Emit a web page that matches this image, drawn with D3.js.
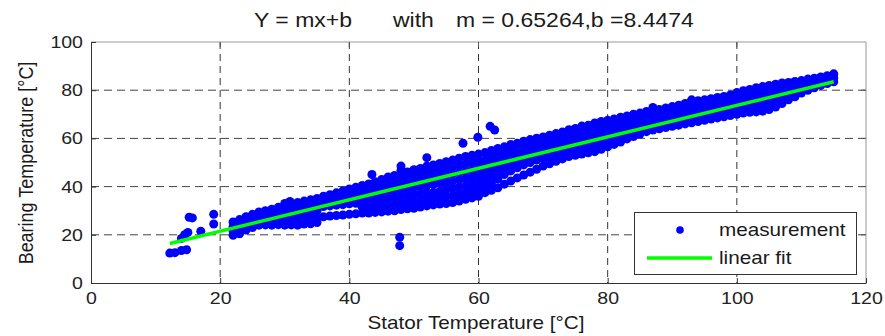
<!DOCTYPE html>
<html>
<head>
<meta charset="utf-8">
<script src="https://cdn.jsdelivr.net/npm/d3@7"></script>
<style>
  body { margin: 0; background: #fff; }
  svg { display: block; font-family: "Liberation Sans", Arial, sans-serif; }
</style>
</head>
<body>
<div class="chart-container"></div>
<script>
// fit parameters shown in the title
const slope = 0.65264;
const intercept = 8.4474;

const xTicks = [0, 20, 40, 60, 80, 100, 120];
const yTicks = [0, 20, 40, 60, 80, 100];

// stator temperature columns and the bearing temperatures read at each
const statorCols = [22, 23, 24, 25, 26, 27, 28, 29, 30, 31, 32, 33, 34, 35, 36, 37, 38, 39, 40, 41,
  42, 43, 44, 45, 46, 47, 48, 49, 50, 51, 52, 53, 54, 55, 56, 57, 58, 59, 60, 61,
  62, 63, 64, 65, 66, 67, 68, 69, 70, 71, 72, 73, 74, 75, 76, 77, 78, 79, 80, 81,
  82, 83, 84, 85, 86, 87, 88, 89, 90, 91, 92, 93, 94, 95, 96, 97, 98, 99, 100, 101,
  102, 103, 104, 105, 106, 107, 108, 109, 110, 111, 112, 113, 114, 115];

const bearingCols = [
  [19.8, 21.6, 23.4, 25.3],
  [20.4, 22.3, 24.2, 26.3],
  [22.0, 23.9, 25.7, 27.5],
  [23.0, 24.8, 26.7, 28.5],
  [24.0, 25.9, 27.8, 29.5],
  [24.1, 26.0, 28.1, 30.0],
  [24.0, 26.2, 28.4, 30.6],
  [24.2, 26.4, 28.7, 31.4],
  [24.0, 26.5, 29.0, 31.2, 33.0],
  [24.1, 26.6, 29.3, 31.6, 32.6],
  [24.0, 26.5, 28.8, 31.0, 33.4],
  [24.5, 26.9, 29.3, 31.7, 34.0],
  [24.6, 27.0, 29.6, 32.1, 34.5],
  [25.1, 27.4, 30.0, 32.6, 35.1],
  [27.5, 31.7, 33.8, 36.0],
  [27.8, 32.0, 34.3, 36.6],
  [28.0, 32.3, 34.8, 37.4],
  [28.2, 32.5, 35.3, 38.2],
  [28.5, 32.9, 35.9, 39.0],
  [28.7, 33.1, 35.4, 37.6, 39.7],
  [29.0, 31.4, 33.8, 36.1, 38.4, 40.5],
  [29.0, 31.5, 34.0, 36.5, 38.9, 41.1],
  [29.3, 31.8, 34.3, 36.9, 39.5, 42.0],
  [29.5, 32.1, 34.8, 37.5, 40.2, 42.9],
  [29.8, 32.4, 35.1, 37.8, 40.6, 43.2, 44.0],
  [30.0, 32.6, 35.4, 38.2, 41.0, 43.7, 44.6],
  [30.5, 33.1, 35.8, 38.6, 41.5, 44.3, 46.8],
  [30.8, 33.4, 36.2, 39.1, 42.0, 44.8, 46.1],
  [31.0, 33.8, 36.6, 39.5, 42.4, 45.2, 47.0],
  [31.5, 34.2, 37.0, 39.9, 42.8, 45.6, 47.5],
  [32.0, 34.7, 37.5, 40.4, 43.3, 46.1, 48.5],
  [32.4, 35.1, 37.6, 40.8, 43.8, 46.7, 49.0],
  [32.8, 35.5, 38.0, 41.3, 44.3, 47.2, 49.6],
  [33.0, 35.9, 38.9, 41.8, 44.8, 47.7, 50.3],
  [33.4, 36.3, 39.3, 42.3, 45.3, 48.3, 51.0],
  [34.0, 36.8, 39.8, 42.8, 45.8, 48.8, 51.8],
  [34.7, 37.4, 40.3, 43.3, 46.3, 49.4, 52.5],
  [35.3, 38.0, 40.9, 43.9, 46.9, 50.0, 53.0],
  [36.0, 38.7, 41.5, 44.5, 47.5, 50.5, 53.5],
  [37.5, 39.9, 42.5, 45.3, 48.2, 51.1, 54.1],
  [38.5, 41.3, 43.8, 46.3, 49.0, 52.0, 55.0],
  [39.5, 43.2, 45.6, 48.1, 50.6, 53.2, 55.8],
  [41.0, 45.0, 47.4, 49.8, 52.2, 54.4, 56.5],
  [42.3, 46.5, 48.7, 51.0, 53.2, 55.4, 57.5],
  [43.6, 47.8, 50.0, 52.1, 54.1, 56.1, 58.0],
  [44.8, 49.0, 51.0, 53.0, 55.0, 57.0, 58.8],
  [46.0, 50.0, 52.0, 54.0, 56.0, 57.8, 59.5],
  [47.2, 51.0, 53.0, 55.0, 56.8, 58.5, 60.1],
  [48.5, 51.8, 53.9, 55.8, 57.6, 59.2, 60.6],
  [49.5, 51.7, 53.9, 56.0, 58.0, 59.8, 61.3],
  [50.5, 52.7, 54.8, 56.9, 58.8, 60.6, 62.0],
  [51.5, 53.6, 55.7, 57.7, 59.6, 61.3, 62.7],
  [52.5, 54.6, 56.7, 58.6, 60.5, 62.2, 63.6],
  [53.0, 55.2, 57.4, 59.4, 61.3, 63.0, 64.1],
  [53.5, 55.8, 58.0, 60.1, 62.1, 63.7, 65.1],
  [54.0, 56.4, 58.7, 60.8, 62.8, 64.4, 65.5],
  [54.5, 57.0, 59.3, 61.5, 63.5, 65.1, 66.4],
  [55.5, 57.8, 60.0, 62.1, 64.1, 65.7, 67.0],
  [56.5, 58.7, 60.8, 62.8, 64.7, 66.3, 67.5],
  [57.5, 59.6, 61.6, 63.5, 65.3, 66.8, 68.1],
  [58.5, 60.5, 62.4, 64.3, 66.0, 67.5, 68.8],
  [59.8, 61.7, 63.5, 65.3, 67.0, 68.3, 69.3],
  [60.8, 62.7, 64.4, 66.1, 67.7, 69.0, 70.0],
  [61.8, 63.6, 65.3, 66.9, 68.4, 69.6, 70.5],
  [62.8, 64.5, 66.1, 67.6, 69.0, 70.2, 71.2],
  [63.5, 65.2, 66.8, 68.3, 69.7, 70.8, 71.5],
  [64.0, 65.8, 67.5, 69.0, 70.4, 71.4, 72.0],
  [64.5, 66.3, 68.0, 69.6, 71.0, 72.0, 72.6],
  [65.0, 66.8, 68.5, 70.1, 71.5, 72.6, 73.2],
  [65.5, 67.3, 69.0, 70.6, 72.0, 73.1, 73.8],
  [66.0, 67.8, 69.5, 71.1, 72.6, 73.8, 74.5],
  [66.5, 68.3, 70.1, 71.8, 73.3, 74.5, 75.3],
  [67.0, 68.9, 70.7, 72.4, 73.9, 75.0, 75.6],
  [67.5, 69.4, 71.2, 72.9, 74.4, 75.5, 76.0],
  [68.0, 69.9, 71.7, 73.4, 74.9, 76.0, 76.5],
  [68.5, 70.4, 72.2, 73.9, 75.4, 76.5, 77.0],
  [69.0, 70.9, 72.7, 74.4, 75.9, 76.9, 77.4],
  [69.5, 71.4, 73.2, 74.9, 76.4, 77.4, 78.0],
  [70.0, 71.9, 73.8, 75.5, 77.0, 78.2, 79.0],
  [70.5, 72.4, 74.3, 76.1, 77.7, 78.9, 79.8],
  [70.8, 72.8, 74.8, 76.6, 78.3, 79.5, 80.3],
  [71.0, 73.1, 75.2, 77.2, 79.0, 80.2, 81.0],
  [71.3, 73.5, 75.7, 77.7, 79.5, 80.7, 81.5],
  [72.0, 74.2, 76.3, 78.3, 80.0, 81.2, 82.0],
  [73.0, 75.1, 77.1, 79.0, 80.6, 81.7, 82.5],
  [74.5, 76.4, 78.2, 79.9, 81.3, 82.3, 83.0],
  [76.0, 77.7, 79.3, 80.8, 82.0, 82.8, 83.2],
  [77.3, 78.9, 80.4, 81.8, 82.8, 83.6],
  [78.8, 80.3, 81.7, 82.9, 84.0],
  [80.0, 81.5, 82.9, 84.0, 84.6],
  [81.0, 82.5, 83.8, 85.0],
  [82.0, 83.5, 84.6, 85.5],
  [82.8, 84.2, 85.3, 86.0],
  [83.5, 85.0, 86.3, 86.8]
];

// isolated points off the main band
const outlierX = [12.2, 13.0, 14.0, 14.8, 14.0, 14.5, 15.0, 15.2, 15.7, 17.0, 19.0, 19.0,
  30.8, 43.5, 47.8, 47.8, 48.0, 52.0, 57.6, 59.9, 61.8, 62.5, 87.0, 93.0];
const outlierY = [12.4, 12.6, 13.5, 13.8, 18.5, 20.0, 21.0, 27.3, 27.0, 21.5, 24.5, 28.5,
  33.8, 45.0, 15.5, 19.0, 48.5, 52.0, 58.0, 60.5, 65.0, 63.5, 72.8, 76.0];

const W = 885, H = 336;
const stretch = 1.15; // the original figure is wider than its fonts

const svg = d3.select('.chart-container').append('svg')
  .attr('width', W).attr('height', H);

const x = d3.scaleLinear().domain([0, 120]).range([91, 866]);
const y = d3.scaleLinear().domain([0, 100]).range([283, 42]);

// points
const points = [];
statorCols.forEach((sx, i) => {
  bearingCols[i].forEach((by) => points.push({ x: sx, y: by }));
});
outlierX.forEach((ox, i) => points.push({ x: ox, y: outlierY[i] }));

// grid
svg.append('g').selectAll('line')
  .data(xTicks.slice(1, -1)).enter().append('line')
  .attr('x1', (d) => x(d)).attr('x2', (d) => x(d))
  .attr('y1', y(100)).attr('y2', y(0))
  .attr('stroke', '#333').attr('stroke-width', 1)
  .attr('stroke-dasharray', '7,5');

svg.append('g').selectAll('line')
  .data(yTicks.slice(1, -1)).enter().append('line')
  .attr('x1', x(0)).attr('x2', x(120))
  .attr('y1', (d) => y(d)).attr('y2', (d) => y(d))
  .attr('stroke', '#444').attr('stroke-width', 1)
  .attr('stroke-dasharray', '8,5');

svg.append('g').selectAll('circle')
  .data(points).enter().append('circle')
  .attr('cx', (d) => x(d.x)).attr('cy', (d) => y(d.y))
  .attr('r', 4.5).attr('fill', '#0000ff');

// linear fit over the range of measurements
const xr = d3.extent(points, (d) => d.x);
const line = d3.line().x((d) => x(d)).y((d) => y(slope * d + intercept));
svg.append('path').datum(xr)
  .attr('d', line).attr('fill', 'none')
  .attr('stroke', '#00ff00').attr('stroke-width', 3.5);

// frame
svg.append('line').attr('x1', x(0)).attr('x2', x(120)).attr('y1', y(100)).attr('y2', y(100))
  .attr('stroke', '#999');
svg.append('line').attr('x1', x(120)).attr('x2', x(120)).attr('y1', y(100)).attr('y2', y(0))
  .attr('stroke', '#999');

const fontSize = 17;

const xAxis = svg.append('g')
  .attr('transform', `translate(0,${y(0)})`)
  .call(d3.axisBottom(x).tickValues(xTicks).tickSizeInner(-5).tickSizeOuter(0).tickPadding(9));
const yAxis = svg.append('g')
  .attr('transform', `translate(${x(0)},0)`)
  .call(d3.axisLeft(y).tickValues(yTicks).tickSizeInner(-5).tickSizeOuter(0).tickPadding(7));

[xAxis, yAxis].forEach((ax) => {
  ax.select('.domain').attr('stroke', '#333');
  ax.selectAll('.tick line').attr('stroke', '#333');
  ax.selectAll('.tick text')
    .attr('font-size', fontSize)
    .attr('font-family', '"Liberation Sans", Arial, sans-serif')
    .attr('fill', '#222')
    .attr('transform', `scale(${stretch},1)`);
});

// ticks on the top and right sides
svg.append('g').selectAll('line').data(xTicks.slice(1, -1)).enter().append('line')
  .attr('x1', (d) => x(d)).attr('x2', (d) => x(d))
  .attr('y1', y(100)).attr('y2', y(100) + 5).attr('stroke', '#555');
svg.append('g').selectAll('line').data(yTicks.slice(1, -1)).enter().append('line')
  .attr('x1', x(120)).attr('x2', x(120) - 5)
  .attr('y1', (d) => y(d)).attr('y2', (d) => y(d)).attr('stroke', '#555');

function label(tx, ty, str, size, anchor) {
  return svg.append('text')
    .attr('transform', `translate(${tx},${ty}) scale(${stretch},1)`)
    .attr('text-anchor', anchor || 'start')
    .attr('font-size', size)
    .attr('fill', '#1a1a1a')
    .text(str);
}

// title
label(254, 27, 'Y = mx+b', 20);
label(393, 27, 'with', 20);
label(456, 27, `m = ${slope},b =${intercept}`, 20);

// axis labels
label(476, 329, 'Stator Temperature [°C]', 18, 'middle');
svg.append('text')
  .attr('transform', `translate(33,163) scale(${stretch},1) rotate(-90)`)
  .attr('text-anchor', 'middle')
  .attr('font-size', 18)
  .attr('fill', '#1a1a1a')
  .text('Bearing Temperature [°C]');

// legend
const lg = svg.append('g');
lg.append('rect').attr('x', 634.5).attr('y', 212.5).attr('width', 222).attr('height', 62)
  .attr('fill', '#fff').attr('stroke', '#333');
lg.append('circle').attr('cx', 680).attr('cy', 230).attr('r', 3.8).attr('fill', '#0000ff');
lg.append('line').attr('x1', 647).attr('x2', 712).attr('y1', 258).attr('y2', 258)
  .attr('stroke', '#00ff00').attr('stroke-width', 3.5);
label(719, 236, 'measurement', 18);
label(719, 264, 'linear fit', 18);
</script>
</body>
</html>
